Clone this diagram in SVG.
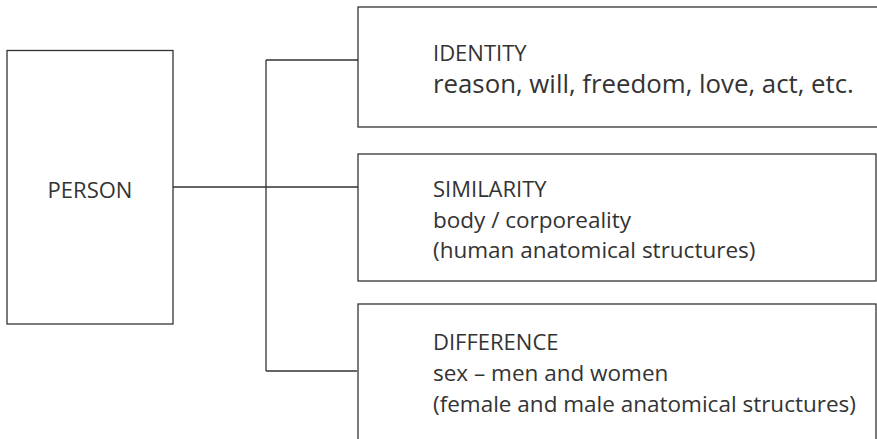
<svg xmlns="http://www.w3.org/2000/svg" width="877" height="439" viewBox="0 0 877 439">
<style>
.box{fill:#fff;stroke:#333;stroke-width:1.3}
.ln{stroke:#333;stroke-width:1.3;fill:none}
text{font-family:"Open Sans","Liberation Sans",sans-serif;font-size:22.5px;fill:#333}
.cap{font-size:22px}
.big{font-size:25.8px}
</style>
<rect width="877" height="439" fill="#fff"/>
<g id="connectors">
<path class="ln" d="M173 187H358M266 60V371M266 60H358M266 371H357"/>
</g>
<g id="person">
<rect class="box" x="7" y="50.5" width="166" height="273.5"/>
<text class="cap" x="90" y="198" text-anchor="middle">PERSON</text>
</g>
<g id="identity">
<rect class="box" x="358" y="7" width="530" height="120"/>
<text class="cap" x="433" y="61">IDENTITY</text>
<text class="big" x="433" y="93">reason, will, freedom, love, act, etc.</text>
</g>
<g id="similarity">
<rect class="box" x="358" y="154" width="518" height="127"/>
<text class="cap" x="433" y="197">SIMILARITY</text>
<text x="433" y="228">body / corporeality</text>
<text x="433" y="258">(human anatomical structures)</text>
</g>
<g id="difference">
<rect class="box" x="358" y="304" width="518" height="145"/>
<text class="cap" x="433" y="350">DIFFERENCE</text>
<text x="433" y="381">sex – men and women</text>
<text x="433" y="412">(female and male anatomical structures)</text>
</g>
</svg>
